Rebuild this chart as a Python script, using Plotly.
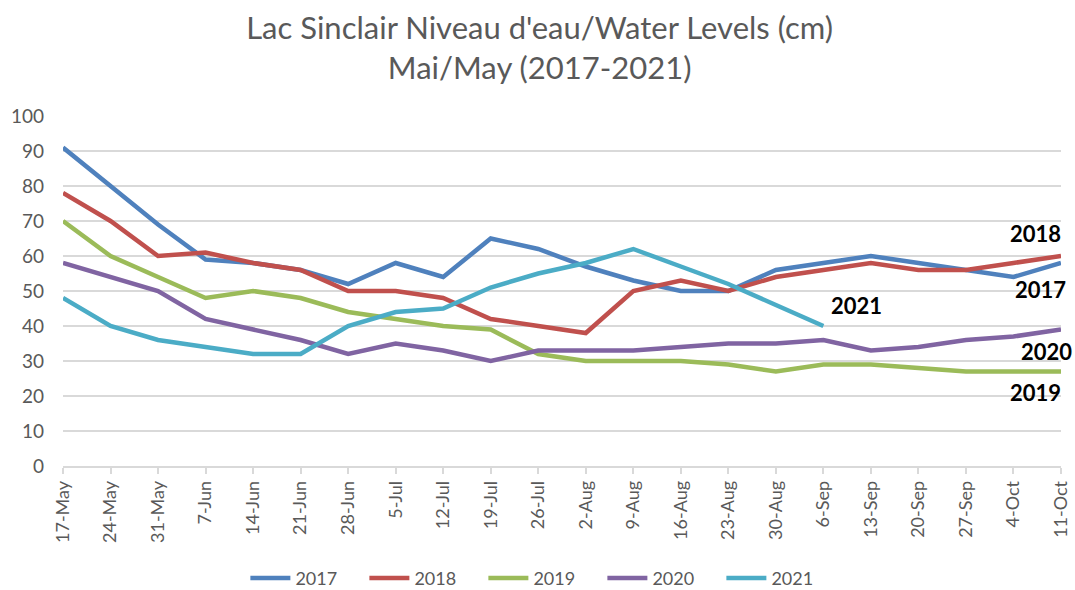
import plotly.graph_objects as go

dates = ["17-May", "24-May", "31-May", "7-Jun", "14-Jun", "21-Jun", "28-Jun", "5-Jul",
         "12-Jul", "19-Jul", "26-Jul", "2-Aug", "9-Aug", "16-Aug", "23-Aug", "30-Aug",
         "6-Sep", "13-Sep", "20-Sep", "27-Sep", "4-Oct", "11-Oct"]

y2017 = [91, 80, 69, 59, 58, 56, 52, 58, 54, 65, 62, 57, 53, 50, 50, 56, 58, 60, 58, 56, 54, 58]
y2018 = [78, 70, 60, 61, 58, 56, 50, 50, 48, 42, 40, 38, 50, 53, 50, 54, 56, 58, 56, 56, 58, 60]
y2019 = [70, 60, 54, 48, 50, 48, 44, 42, 40, 39, 32, 30, 30, 30, 29, 27, 29, 29, 28, 27, 27, 27]
y2020 = [58, 54, 50, 42, 39, 36, 32, 35, 33, 30, 33, 33, 33, 34, 35, 35, 36, 33, 34, 36, 37, 39]
y2021 = [48, 40, 36, 34, 32, 32, 40, 44, 45, 51, 55, 58, 62, 57, 52, 46, 40]

series = [
    ("2017", y2017, "#4f81bd"),
    ("2018", y2018, "#c0504d"),
    ("2019", y2019, "#9bbb59"),
    ("2020", y2020, "#8064a2"),
    ("2021", y2021, "#4bacc6"),
]

# end labels: (text, category index, value)
end_labels = [
    ("2018", 20.46, 66.3),
    ("2017", 20.57, 50.3),
    ("2021", 16.7, 46.0),
    ("2020", 20.7, 32.6),
    ("2019", 20.46, 21.1),
]

FONT = "Lato, Open Sans, sans-serif"

fig = go.Figure()
for name, vals, color in series:
    fig.add_trace(go.Scatter(
        x=dates[:len(vals)], y=vals, name=name, mode="lines",
        line=dict(color=color, width=4.5),
    ))

for text, xi, yv in end_labels:
    fig.add_annotation(x=xi, y=yv, text="<b>%s</b>" % text, showarrow=False,
                       font=dict(family=FONT, size=22, color="#000000"),
                       xanchor="center", yanchor="middle")

fig.update_layout(
    width=1075, height=590,
    paper_bgcolor="white", plot_bgcolor="white",
    margin=dict(l=63, r=14, t=116, b=124, autoexpand=False),
    title=dict(text="Lac Sinclair Niveau d'eau/Water Levels (cm)<br>Mai/May (2017-2021)",
               x=0.502, xanchor="center", y=0.934, yanchor="top",
               font=dict(family=FONT, size=31, color="#595959")),
    font=dict(family=FONT, color="#595959"),
    showlegend=True,
    legend=dict(orientation="h", x=0.505, xanchor="center", xref="container",
                y=0.02, yanchor="middle", yref="container",
                font=dict(size=18, color="#595959"), entrywidth=64, entrywidthmode="pixels",
                itemwidth=40),
)
fig.update_xaxes(
    type="category", categoryorder="array", categoryarray=dates,
    range=[0, 21], tickangle=-90, tickfont=dict(size=18, color="#595959"),
    showgrid=False, showline=True, linecolor="#d9d9d9", linewidth=1.5,
    ticks="outside", ticklen=6, tickcolor="#d9d9d9", tickwidth=1.5,
    zeroline=False, automargin=False,
)
fig.update_yaxes(
    range=[0, 100], dtick=10, tickfont=dict(size=19, color="#595959"),
    showgrid=True, gridcolor="#d9d9d9", gridwidth=1.5, zeroline=False,
    showline=False, ticks="", ticklabelstandoff=18, automargin=False,
)

fig.write_html("out.html", config={"displayModeBar": False},
               post_script="document.body.style.margin='0';document.body.style.overflow='hidden';")
